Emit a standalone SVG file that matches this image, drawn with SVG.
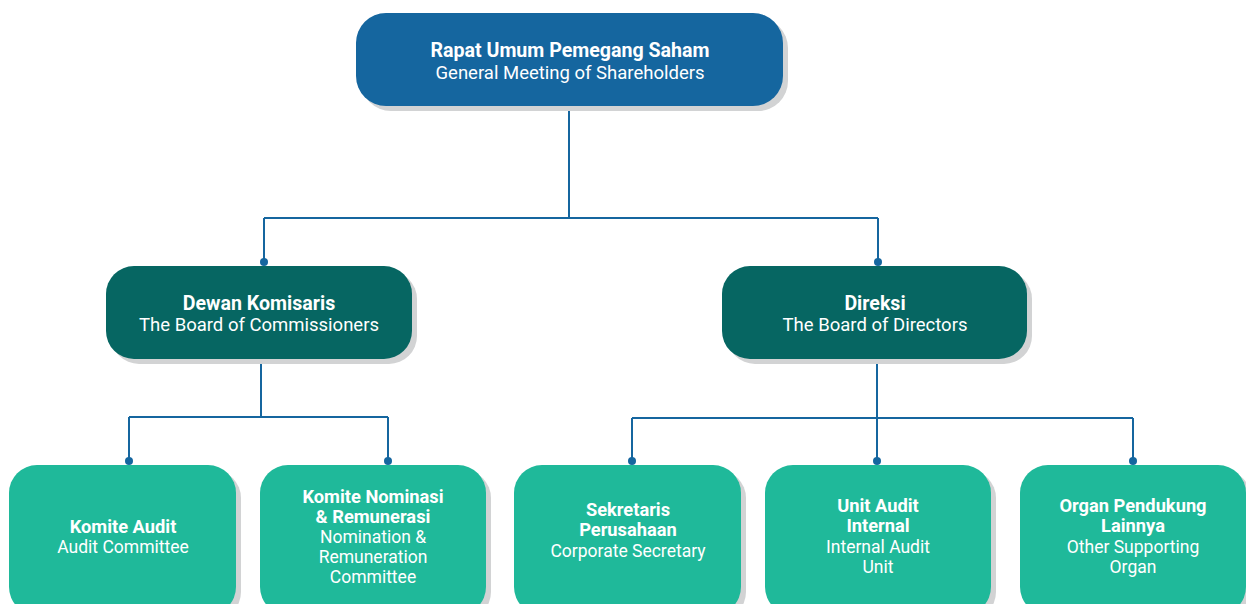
<svg xmlns="http://www.w3.org/2000/svg" width="1246" height="604" viewBox="0 0 1246 604">
<style>
.sh{fill:#d2d3d4}
.blue{fill:#15669f}
.dark{fill:#066662}
.light{fill:#1fb99a}
.t{font-family:Roboto,"Liberation Sans",sans-serif;fill:#fff;text-anchor:middle}
.b{font-weight:700;font-size:19.6px}
.r{font-weight:400;font-size:18.5px}
.bs{font-weight:700;font-size:18.3px}
.rs{font-weight:400;font-size:17.5px}
.ln{fill:none;stroke:#15669f;stroke-width:2}
.dot{fill:#15669f}
</style>
<rect width="1246" height="604" fill="#fff"/>
<g id="connectors">
<path class="ln" d="M569,106V218M264,218H878M264,218V262M878,218V262"/>
<path class="ln" d="M261,359V417M129,417H388M129,417V461M388,417V461"/>
<path class="ln" d="M877,359V461M632,418H1133M632,418V461M1133,418V461"/>
<circle class="dot" cx="264" cy="262" r="4"/>
<circle class="dot" cx="878" cy="262" r="4"/>
<circle class="dot" cx="129" cy="461" r="4"/>
<circle class="dot" cx="388" cy="461" r="4"/>
<circle class="dot" cx="632" cy="461" r="4"/>
<circle class="dot" cx="877" cy="461" r="4"/>
<circle class="dot" cx="1133" cy="461" r="4"/>
</g>
<g id="rups">
<rect class="sh" x="361" y="18" width="427" height="93" rx="30"/>
<rect class="blue" x="356" y="13" width="427" height="93" rx="30"/>
<text class="t b" x="570" y="57">Rapat Umum Pemegang Saham</text>
<text class="t r" x="570" y="79">General Meeting of Shareholders</text>
</g>
<g id="dewan-komisaris">
<rect class="sh" x="111" y="271" width="306" height="93" rx="28"/>
<rect class="dark" x="106" y="266" width="306" height="93" rx="28"/>
<text class="t b" x="259" y="310">Dewan Komisaris</text>
<text class="t r" x="259" y="331">The Board of Commissioners</text>
</g>
<g id="direksi">
<rect class="sh" x="727" y="271" width="305" height="93" rx="28"/>
<rect class="dark" x="722" y="266" width="305" height="93" rx="28"/>
<text class="t b" x="875" y="310">Direksi</text>
<text class="t r" x="875" y="331">The Board of Directors</text>
</g>
<g id="komite-audit">
<rect class="sh" x="14" y="470" width="227" height="150" rx="28"/>
<rect class="light" x="9" y="465" width="227" height="150" rx="28"/>
<text class="t bs" x="123" y="533">Komite Audit</text>
<text class="t rs" x="123" y="553">Audit Committee</text>
</g>
<g id="komite-nominasi">
<rect class="sh" x="265" y="470" width="226" height="150" rx="28"/>
<rect class="light" x="260" y="465" width="226" height="150" rx="28"/>
<text class="t bs" x="373" y="503">Komite Nominasi</text>
<text class="t bs" x="373" y="523">&amp; Remunerasi</text>
<text class="t rs" x="373" y="543">Nomination &amp;</text>
<text class="t rs" x="373" y="563">Remuneration</text>
<text class="t rs" x="373" y="583">Committee</text>
</g>
<g id="sekretaris">
<rect class="sh" x="519" y="470" width="227" height="150" rx="28"/>
<rect class="light" x="514" y="465" width="227" height="150" rx="28"/>
<text class="t bs" x="628" y="516">Sekretaris</text>
<text class="t bs" x="628" y="536">Perusahaan</text>
<text class="t rs" x="628" y="557">Corporate Secretary</text>
</g>
<g id="unit-audit">
<rect class="sh" x="770" y="470" width="226" height="150" rx="28"/>
<rect class="light" x="765" y="465" width="226" height="150" rx="28"/>
<text class="t bs" x="878" y="512">Unit Audit</text>
<text class="t bs" x="878" y="532">Internal</text>
<text class="t rs" x="878" y="553">Internal Audit</text>
<text class="t rs" x="878" y="573">Unit</text>
</g>
<g id="organ-pendukung">
<rect class="sh" x="1025" y="470" width="226" height="150" rx="28"/>
<rect class="light" x="1020" y="465" width="226" height="150" rx="28"/>
<text class="t bs" x="1133" y="512">Organ Pendukung</text>
<text class="t bs" x="1133" y="532">Lainnya</text>
<text class="t rs" x="1133" y="553">Other Supporting</text>
<text class="t rs" x="1133" y="573">Organ</text>
</g>
</svg>
